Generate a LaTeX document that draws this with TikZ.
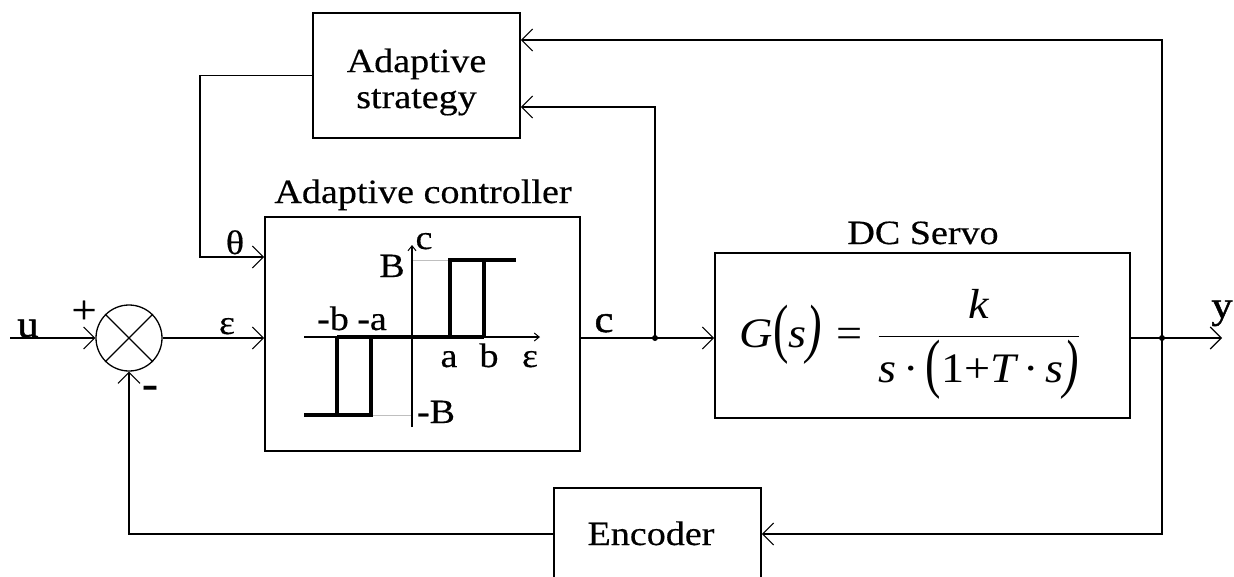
\documentclass[tikz,border=0pt]{standalone}
\usepackage{fix-cm}
\usepackage{amsmath}
\usepackage{graphicx}
\usepackage{fontspec}
\setmainfont{Liberation Serif}[FakeStretch=1.12,FakeBold=0.4]
\newfontfamily\formfont{Liberation Serif}[FakeStretch=1.1]
\newfontfamily\boldish{Liberation Serif}[FakeStretch=1.12,FakeBold=1.2]
\usetikzlibrary{arrows.meta}
\newcommand{\tallpar}[1]{\raisebox{-0.08em}{\scalebox{1}[1.56]{#1}}}
\begin{document}
\begin{tikzpicture}[x=1pt,y=-1pt,
  line width=1.5pt,
  blk/.style={draw, line width=1.8pt, inner sep=0pt},
  arr/.style={-{Straight Barb[length=11pt,width=22pt,line width=1.1pt]}},
  ax/.style={line width=1.1pt,-{Straight Barb[length=5pt,width=8pt,line width=1pt]}},
  hy/.style={line width=4pt},
  gl/.style={line width=1pt, gray!50},
  txt/.style={inner sep=0pt, font=\fontsize{34}{36}\selectfont},
  big/.style={inner sep=0pt, font=\boldish\fontsize{38}{40}\selectfont},
  dot/.style={circle, fill, inner sep=0pt, minimum size=6pt}]
\clip (0,0) rectangle (1234,576);
% blocks
\node[blk, minimum width=207pt, minimum height=125pt] (strat) at (416.5,75.5) {};
\node[txt, align=center] (stratlbl) at (416.5,82) {Adaptive\\strategy};
\node[blk, minimum width=315pt, minimum height=234pt] (ctrl) at (422.5,334) {};
\node[txt, anchor=base] (ctrlt) at (423,203) {Adaptive controller};
\node[blk, minimum width=415pt, minimum height=165pt] (servo) at (922.5,335.5) {};
\node[txt, anchor=base] (servot) at (923,244) {DC Servo};
\node[blk, minimum width=207pt, minimum height=92pt] (enc) at (657.5,534) {};
\node[txt, anchor=base] (enct) at (651,545) {Encoder};
% summing junction
\node[draw, circle, minimum size=66pt, line width=1.3pt, inner sep=0pt] (sum) at (129,338) {};
\draw[line width=1.2pt] (sum.north west) -- (sum.south east) (sum.north east) -- (sum.south west);
% connectors
\coordinate (uin) at (10,338);
\draw[arr] (uin) -- (sum.west);
\draw[arr] (sum.east) -- (sum.east -| ctrl.west);
\coordinate (thc) at (200,257);
\draw[arr] (strat.west) -| (thc) -- (thc -| ctrl.west);
\coordinate (j1) at (655,338);
\coordinate (j2) at (1162,338);
\coordinate (s1) at ([yshift=35.5pt]strat.east);
\coordinate (s2) at ([yshift=-31.5pt]strat.east);
\coordinate (yend) at (1222,338);
\draw (j1 -| ctrl.east) -- (j1);
\draw[arr] (j1) -- (j1 -| servo.west);
\draw[arr] (j1) |- (s2);
\draw (j2 -| servo.east) -- (j2);
\draw[arr] (j2) -- (yend);
\draw[arr] (j2) |- (s1);
\draw[arr] (j2) |- (enc.east);
\draw[arr] (enc.west) -| (sum.south);
\node[dot] (d1) at (j1) {};
\node[dot] (d2) at (j2) {};
% signal labels
\node[big, anchor=base] (lu) at (28,337) {u};
\node[inner sep=0pt, font=\fontsize{40}{42}\selectfont] (lplus) at (84,312) {+};
\node[inner sep=0pt, font=\bfseries\fontsize{44}{46}\selectfont] (lminus) at (150,392) {-};
\node[txt, anchor=base] (leps) at (227,334) {ε};
\node[txt, anchor=base] (lth) at (235,254) {θ};
\node[big, anchor=base] (lc) at (604,332) {c};
\node[big, anchor=base] (ly) at (1222,318) {y};
% hysteresis characteristic
\draw[gl] (412,260) -- (450,260);
\draw[gl] (371,415) -- (412,415);
\draw[ax] (412,427) -- (412,245);
\draw[ax] (304,337) -- (540,337);
\draw[hy] (337,337) -- (484,337);
\draw[hy] (450,337) -- (450,260) -- (516,260);
\draw[hy] (484,260) -- (484,337);
\draw[hy] (304,415) -- (371,415) -- (371,337);
\draw[hy] (337,337) -- (337,415);
\node[txt, anchor=base] (hc) at (424,249) {c};
\node[txt, anchor=base] (hB) at (392,277) {B};
\node[txt, anchor=base] (hmb) at (333,330) {-b};
\node[txt, anchor=base] (hma) at (372,330) {-a};
\node[txt, anchor=base] (ha) at (449,367) {a};
\node[txt, anchor=base] (hb) at (489,367) {b};
\node[txt, anchor=base] (he) at (530,367) {ε};
\node[txt, anchor=base] (hmB) at (436,423) {-B};
% transfer function
\node[inner sep=0pt, anchor=base west, font=\formfont\fontsize{42}{50}\selectfont] (gs) at (739,347)
  {$\mbox{\itshape G}\mbox{\tallpar{(}\itshape s\/\tallpar{)}}\mbox{\hspace{0.35em}=\hspace{0.35em}}\dfrac{\mbox{\itshape k}}{\mbox{\itshape s\upshape\,·\,\tallpar{(}1+\itshape T\upshape\,·\,\itshape s\/\tallpar{)}}}$};
\end{tikzpicture}
\end{document}
